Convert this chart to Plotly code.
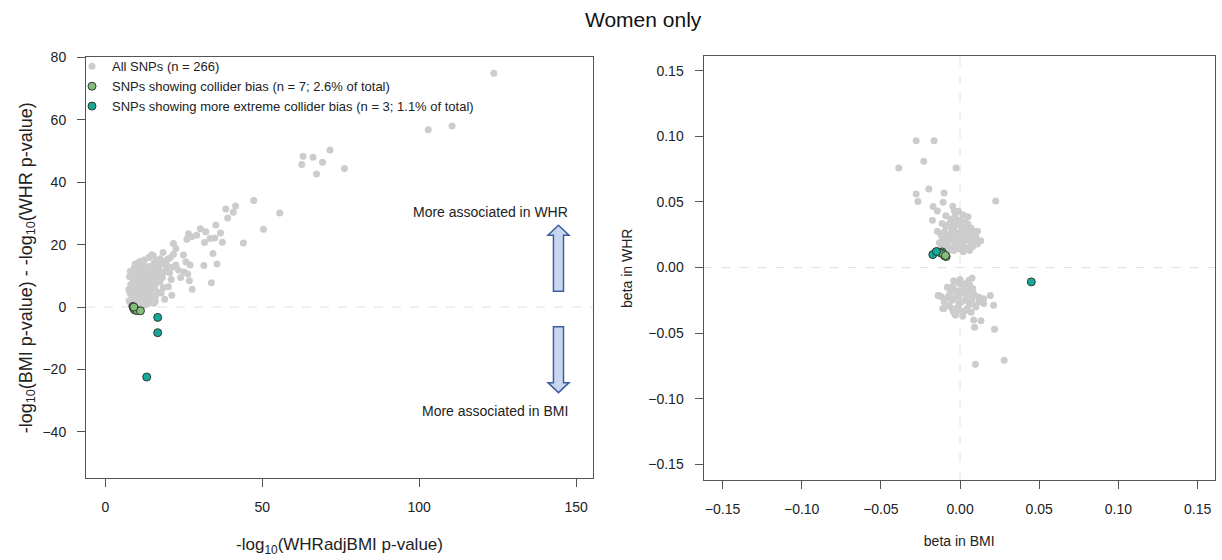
import plotly.graph_objects as go

# ---------------- data: left panel ----------------
left_all_x = [8.2,8.5,8.8,9.0,8.4,8.7,9.2,8.9,8.3,8.6,9.1,8.8,9.4,9.0,
              9.6,9.9,10.3,9.7,10.1,10.5,9.8,10.2,10.6,9.9,10.4,10.8,10.1,10.7,10.3,
              11.0,11.4,11.8,11.2,11.6,12.0,11.3,11.7,12.1,11.5,11.9,12.3,11.6,12.0,12.5,11.3,
              12.6,12.9,13.3,12.7,13.1,13.5,12.8,13.2,13.6,12.9,13.4,13.8,13.0,13.5,14.0,
              14.2,14.6,14.1,14.5,14.9,14.3,14.7,15.1,14.4,15.2,15.6,
              15.5,16.0,16.4,15.8,16.3,16.8,16.1,17.0,16.6,17.5,
              17.8,18.5,17.4,18.2,18.9,19.5,18.0,19.8,20.6,19.2,
              15.9,18.9,21.2,20.1,21.0,20.5,21.7,22.5,21.7,24.9,22.5,21.7,
              24.0,23.3,25.1,26.3,26.8,27.7,25.7,27.0,26.0,26.5,27.5,29.1,30.3,32.0,33.4,34.9,
              31.6,34.3,35.6,31.4,33.8,35.2,36.7,37.3,38.4,41.5,40.8,39.0,44.0,47.3,50.4,55.6,
              62.6,63.0,66.2,71.6,69.2,67.3,76.2,102.9,110.5,123.8,
              7.6,7.9,8.1,7.7,8.0,7.5,12.5,13.5,10.0,9.3,11.1,12.2,
              9.5,10.9,12.4,13.9,15.3,16.9,18.4,19.9,14.8,17.2]
left_all_y = [0.8,1.5,2.3,3.1,3.9,4.6,5.2,6.0,6.8,7.5,8.2,9.0,9.7,10.5,
              0.9,1.8,2.6,3.4,4.2,5.0,5.8,6.6,7.3,8.1,8.9,9.6,10.4,11.2,12.0,
              1.3,2.2,3.0,3.8,4.6,5.4,6.2,7.0,7.8,8.6,9.4,10.2,11.0,11.8,12.6,13.2,
              1.7,2.6,3.4,4.2,5.0,5.8,6.6,7.4,8.2,9.0,9.8,10.6,11.4,12.2,13.0,
              2.0,3.0,4.4,5.6,6.8,8.0,9.2,10.4,11.6,12.8,14.2,
              1.2,3.5,5.0,7.0,8.6,10.0,11.8,13.0,14.8,15.5,
              4.5,6.2,8.0,9.5,11.3,12.8,13.9,15.2,15.8,14.5,
              1.9,2.5,3.8,6.5,8.8,11.0,12.8,13.5,16.9,16.7,18.8,20.4,
              9.5,11.9,11.2,10.6,8.4,5.7,14.4,13.5,21.7,23.5,22.5,23.0,25.1,24.1,22.0,22.1,
              20.7,17.2,13.8,13.3,7.8,26.3,23.7,20.8,31.4,32.4,30.4,28.5,20.5,34.1,24.9,30.1,
              45.7,48.3,48.0,50.3,46.4,42.6,44.4,56.8,58.0,74.9,
              2.0,4.5,7.2,9.8,11.5,5.6,0.6,1.1,0.3,12.6,14.0,14.6,
              13.8,14.6,15.1,15.9,16.4,12.2,17.5,13.1,16.8,10.9]

left_col_x = [8.8, 9.0, 9.3, 9.6, 10.2, 11.2, 9.1]
left_col_y = [0.2, -0.3, -0.8, -1.0, -1.1, -1.2, 0.0]

left_ext_x = [16.7, 16.7, 13.2]
left_ext_y = [-3.3, -8.2, -22.4]

# ---------------- data: right panel ----------------
right_all_x = [-0.0277,-0.0164,-0.0229,-0.0387,-0.0025,-0.0197,-0.0277,-0.0101,-0.0266,0.0225,
               -0.0170,-0.0107,-0.0143,-0.0046,-0.0036,-0.0090,-0.0174,-0.0113,-0.0029,0.0050,
               0.0034,-0.0143,-0.0055,0.0090,0.0130,0.0110,
               -0.014,-0.012,-0.010,-0.008,-0.006,-0.004,-0.002,0.000,0.002,0.004,0.006,0.008,
               -0.013,-0.011,-0.009,-0.007,-0.005,-0.003,-0.001,0.001,0.003,0.005,0.007,0.009,0.011,
               -0.012,-0.010,-0.008,-0.006,-0.004,-0.002,0.000,0.002,0.004,0.006,0.008,0.010,
               -0.009,-0.007,-0.005,-0.003,-0.001,0.001,0.003,0.005,0.007,
               -0.006,-0.003,0.000,0.002,-0.001,
               0.0076,0.0055,0.0034,-0.0008,-0.0050,-0.0029,0.0013,0.0044,0.0086,-0.0008,
               -0.0071,-0.0134,-0.0092,-0.0050,-0.0008,0.0034,0.0076,0.0118,0.0149,0.0191,
               0.0212,0.0149,0.0097,0.0044,-0.0008,-0.0050,-0.0103,-0.0029,0.0017,0.0086,
               0.0132,0.0092,0.0218,0.0097,0.0279,
               -0.008,-0.004,0.000,0.002,0.006,-0.006,-0.002,0.004,0.008,-0.010,-0.003,0.001,
               0.006,0.010,-0.007,-0.012,0.012,-0.001,0.003,0.007,-0.004,0.000,0.005,
               -0.0139,-0.0109,-0.0050]
right_all_y = [0.0966,0.0966,0.0811,0.0758,0.0758,0.0598,0.0560,0.0568,0.0503,0.0508,
               0.0465,0.0497,0.0432,0.0467,0.0432,0.0395,0.0360,0.0335,0.0372,0.0387,
               0.0347,0.0277,0.0327,0.0277,0.0204,0.0277,
               0.013,0.016,0.014,0.012,0.015,0.013,0.016,0.014,0.012,0.015,0.013,0.016,
               0.019,0.021,0.018,0.020,0.022,0.019,0.021,0.018,0.020,0.022,0.019,0.021,0.018,
               0.025,0.027,0.024,0.026,0.028,0.025,0.027,0.024,0.026,0.028,0.025,0.023,
               0.031,0.033,0.030,0.032,0.034,0.031,0.029,0.033,0.030,
               0.037,0.039,0.036,0.040,0.043,
               -0.0079,-0.0099,-0.0124,-0.0119,-0.0149,-0.0174,-0.0162,-0.0187,-0.0199,-0.0212,
               -0.0212,-0.0212,-0.0237,-0.0249,-0.0274,-0.0249,-0.0237,-0.0224,-0.0237,-0.0212,
               -0.0287,-0.0274,-0.0287,-0.0312,-0.0325,-0.0312,-0.0312,-0.0362,-0.0370,-0.0400,
               -0.0405,-0.0455,-0.0470,-0.0736,-0.0706,
               -0.015,-0.010,-0.009,-0.015,-0.013,-0.019,-0.018,-0.021,-0.016,-0.026,-0.023,-0.026,
               -0.028,-0.030,-0.029,-0.022,-0.026,-0.030,-0.033,-0.034,-0.034,-0.020,-0.018,
               -0.0212,-0.0312,-0.0149]

right_col_x = [-0.0151, -0.0113, -0.0097, -0.0088, -0.0120, -0.0105, -0.0092]
right_col_y = [0.0119, 0.0119, 0.0089, 0.0084, 0.0110, 0.0100, 0.0092]

right_ext_x = [-0.0172, -0.0149, 0.0450]
right_ext_y = [0.0099, 0.0122, -0.0109]

left_xticks = [0, 50, 100, 150]
left_yticks = [-40, -20, 0, 20, 40, 60, 80]
right_ticks = [-0.15, -0.10, -0.05, 0.00, 0.05, 0.10, 0.15]

legend_names = ["All SNPs (n = 266)",
                "SNPs showing collider bias (n = 7; 2.6% of total)",
                "SNPs showing more extreme collider bias (n = 3; 1.1% of total)"]

# ---------------- styles ----------------
GREY = "#cccccc"
GREEN = "#86bf7c"
TEAL = "#16a89b"
EDGE = "#2f3a33"
FONT = "Liberation Sans, Arial, Helvetica, sans-serif"
TXT = "#222222"

fig = go.Figure()

fig.add_trace(go.Scatter(x=left_all_x, y=left_all_y, mode="markers", name=legend_names[0],
                         marker=dict(color=GREY, size=7, line=dict(width=0)),
                         xaxis="x", yaxis="y", legendgroup="a"))
fig.add_trace(go.Scatter(x=left_col_x, y=left_col_y, mode="markers", name=legend_names[1],
                         marker=dict(color=GREEN, size=8, line=dict(width=1, color=EDGE)),
                         xaxis="x", yaxis="y", legendgroup="b"))
fig.add_trace(go.Scatter(x=left_ext_x, y=left_ext_y, mode="markers", name=legend_names[2],
                         marker=dict(color=TEAL, size=8, line=dict(width=1, color=EDGE)),
                         xaxis="x", yaxis="y", legendgroup="c"))

fig.add_trace(go.Scatter(x=right_all_x, y=right_all_y, mode="markers", showlegend=False,
                         marker=dict(color=GREY, size=7, line=dict(width=0)),
                         xaxis="x2", yaxis="y2", legendgroup="a"))
fig.add_trace(go.Scatter(x=right_col_x, y=right_col_y, mode="markers", showlegend=False,
                         marker=dict(color=GREEN, size=8, line=dict(width=1, color=EDGE)),
                         xaxis="x2", yaxis="y2", legendgroup="b"))
fig.add_trace(go.Scatter(x=right_ext_x, y=right_ext_y, mode="markers", showlegend=False,
                         marker=dict(color=TEAL, size=8, line=dict(width=1, color=EDGE)),
                         xaxis="x2", yaxis="y2", legendgroup="c"))

W, H = 1222, 560
axis_common = dict(showline=True, mirror=True, linecolor="#555555", linewidth=1,
                   ticks="outside", ticklen=8, tickcolor="#555555", showgrid=False,
                   zeroline=False, tickfont=dict(size=14, color=TXT, family=FONT),
                   ticklabelstandoff=8)

fig.update_layout(
    width=W, height=H,
    margin=dict(l=0, r=0, t=0, b=0),
    paper_bgcolor="white", plot_bgcolor="white",
    font=dict(family=FONT, color=TXT, size=13),
    showlegend=True,
    legend=dict(x=72 / W, y=1 - 44 / H, xanchor="left", yanchor="top",
                bgcolor="rgba(0,0,0,0)", font=dict(size=13, family=FONT, color=TXT),
                tracegroupgap=0, itemsizing="trace", itemwidth=30),
    xaxis=dict(domain=[86 / W, 593 / W], range=[-6.15, 155.4], tickvals=left_xticks,
               anchor="y",
               title=dict(text="-log<sub>10</sub>(WHRadjBMI p-value)", standoff=24,
                          font=dict(size=17, family=FONT, color=TXT)),
               **axis_common),
    yaxis=dict(domain=[1 - 477 / H, 1 - 50 / H], range=[-54.8, 80], tickvals=left_yticks,
               anchor="x",
               title=dict(text="-log<sub>10</sub>(BMI p-value) - -log<sub>10</sub>(WHR p-value)",
                          standoff=5, font=dict(size=18, family=FONT, color=TXT)),
               **axis_common),
    xaxis2=dict(domain=[703.5 / W, 1215 / W], range=[-0.162, 0.161], tickvals=right_ticks,
                tickformat=".2f", anchor="y2",
                title=dict(text="beta in BMI", standoff=20,
                           font=dict(size=14, family=FONT, color=TXT)),
                **axis_common),
    yaxis2=dict(domain=[1 - 479 / H, 1 - 49 / H], range=[-0.162, 0.161], tickvals=right_ticks,
                tickformat=".2f", anchor="x2",
                title=dict(text="beta in WHR", standoff=12,
                           font=dict(size=14, family=FONT, color=TXT)),
                **axis_common),
)

# title
fig.add_annotation(text="Women only", x=643 / W, y=1 - 12 / H, xref="paper", yref="paper",
                   xanchor="center", yanchor="middle",
                   showarrow=False, font=dict(size=21, family=FONT, color="#111111"))

# reference dashed lines
DASH = dict(color="#e0e0e0", width=1, dash="dash")
fig.add_shape(type="line", xref="x domain", yref="y", x0=0, x1=1, y0=0, y1=0, line=DASH, layer="below")
fig.add_shape(type="line", xref="x2 domain", yref="y2", x0=0, x1=1, y0=0, y1=0, line=DASH, layer="below")
fig.add_shape(type="line", xref="x2", yref="y2 domain", x0=0, x1=0, y0=0, y1=1, line=DASH, layer="below")

# block arrows (decoration)
cx, w, hw = 144.4, 1.6, 3.35
up = f"M {cx-w},5.1 L {cx-w},23.0 L {cx-hw},23.0 L {cx},26.2 L {cx+hw},23.0 L {cx+w},23.0 L {cx+w},5.1 Z"
down = f"M {cx-w},-6.3 L {cx-w},-24.2 L {cx-hw},-24.2 L {cx},-27.4 L {cx+hw},-24.2 L {cx+w},-24.2 L {cx+w},-6.3 Z"
for p in (up, down):
    fig.add_shape(type="path", path=p, xref="x", yref="y",
                  fillcolor="#c8d7ef", line=dict(color="#3b5e9e", width=1.5))

fig.add_annotation(text="More associated in WHR", x=148, y=30.4, xref="x", yref="y",
                   xanchor="right", yanchor="middle", showarrow=False,
                   font=dict(size=14, family=FONT, color=TXT))
fig.add_annotation(text="More associated in BMI", x=148, y=-33.3, xref="x", yref="y",
                   xanchor="right", yanchor="middle", showarrow=False,
                   font=dict(size=14, family=FONT, color=TXT))

fig.write_html("out.html", config={"displayModeBar": False},
               post_script="document.body.style.margin='0';document.body.style.overflow='hidden';")
